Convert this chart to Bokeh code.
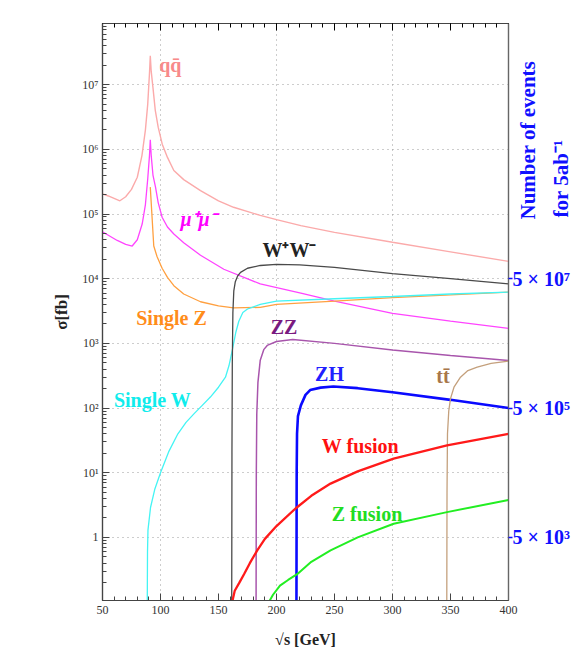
import math
from bokeh.plotting import figure
from bokeh.models import (Range1d, LinearAxis, LogAxis, FixedTicker, Label,
                          CustomJSTickFormatter)
from bokeh.embed import file_html
from bokeh.resources import INLINE

# ---------------- data ----------------
QQ_X = [50, 55, 60, 65, 70, 75, 80, 84, 87, 89, 90.5, 91.2, 92, 93.5, 95.5, 98, 101.5, 106,
        111.5, 120, 134.5, 150, 163, 186, 200, 221, 250, 300, 350, 400]
QQ_Y = [2.05e5, 1.9e5, 1.75e5, 1.6e5, 1.85e5, 2.4e5, 3.7e5, 8e5, 2e6, 5e6, 1.5e7, 2.8e7, 1.6e7,
        9e6, 4e6, 2.2e6, 1.2e6, 7.5e5, 4.7e5, 3.4e5, 2.3e5, 1.6e5, 1.27e5, 9.5e4, 8.2e4, 6.6e4,
        5.2e4, 3.65e4, 2.6e4, 1.85e4]

MM_X = [50, 55, 62.7, 70, 75.6, 80, 84.2, 87, 89, 90.5, 91.2, 92, 93.5, 95.7, 98, 101.4, 106,
        111.5, 120, 134.5, 154.6, 186, 221, 250, 300, 350, 400]
MM_Y = [5.3e4, 4.7e4, 3.9e4, 3.4e4, 3.2e4, 4e4, 7e4, 1.4e5, 3.5e5, 8e5, 1.4e6, 8e5, 4e5, 2.6e5,
        1.5e5, 8.9e4, 6.3e4, 4.9e4, 3.6e4, 2.3e4, 1.4e4, 8.3e3, 6e3, 4.5e3, 2.9e3, 2.2e3, 1.7e3]

SZ_X = [91.2, 94.2, 97, 101.4, 106, 111.5, 120, 134.5, 150, 163, 186, 200, 250, 300, 350, 400]
SZ_Y = [2.6e5, 3.2e4, 2.2e4, 1.45e4, 1.05e4, 7.8e3, 5.8e3, 4.4e3, 3.8e3, 3.55e3, 3.6e3, 4.0e3,
        4.5e3, 5.1e3, 5.6e3, 6.2e3]

SW_X = [88.6, 88.8, 89.2, 91.4, 95, 100, 107, 115, 122, 129, 136, 143, 150, 156, 159, 162, 165,
        167.5, 171, 175, 186, 200, 250, 300, 350, 400]
SW_Y = [0.1, 0.6, 1.3, 2.9, 5.5, 10, 21, 40, 60, 82, 110, 148, 210, 300, 450, 800, 1500, 2200,
        3000, 3400, 4000, 4500, 4900, 5300, 5800, 6200]

WW_X = [161.4, 161.6, 161.9, 162.4, 163.2, 164.5, 166.5, 169, 175, 186, 200, 220, 250, 300, 350, 400]
WW_Y = [0.1, 20, 500, 3000, 6500, 9000, 1.1e4, 1.25e4, 1.45e4, 1.6e4, 1.66e4, 1.64e4, 1.5e4,
        1.2e4, 1.0e4, 8.3e3]

ZZ_X = [182.4, 182.6, 183, 184, 186, 189, 192, 200, 214, 250, 300, 350, 400]
ZZ_Y = [0.1, 10, 80, 250, 550, 800, 930, 1070, 1150, 1000, 790, 650, 545]

ZH_X = [217.2, 217.4, 217.7, 218.5, 221, 225, 229, 238, 249, 270, 300, 350, 400]
ZH_Y = [0.1, 10, 40, 75, 110, 160, 190, 207, 215, 203, 176, 134, 100]

TT_X = [346.8, 347.0, 347.4, 348.5, 350, 353, 358.6, 365, 373, 385, 400]
TT_Y = [0.1, 5, 40, 90, 140, 210, 300, 380, 430, 490, 530]

WF_X = [161.8, 164, 168, 172, 177, 183.4, 190, 200, 216.4, 230, 246.6, 270, 301, 347, 400]
WF_Y = [0.1, 0.15, 0.2, 0.27, 0.4, 0.63, 0.95, 1.5, 2.8, 4.4, 6.8, 10.5, 16.5, 26.4, 40]

ZF_X = [193.4, 197, 203, 210, 217.8, 230, 246.6, 270, 301, 347, 400]
ZF_Y = [0.1, 0.13, 0.18, 0.22, 0.27, 0.42, 0.63, 1.0, 1.63, 2.46, 3.8]

X_TICKS = [50, 100, 150, 200, 250, 300, 350, 400]
Y_TICKS = [1, 10, 100, 1e3, 1e4, 1e5, 1e6, 1e7]
Y_TICK_LABELS = ["1", "10¹", "10²", "10³", "10⁴", "10⁵", "10⁶", "10⁷"]
R_TICKS = [1, 100, 1e4]
R_TICK_LABELS = ["5 × 10³", "5 × 10⁵", "5 × 10⁷"]

SERIES_NAMES = ["qq\u0304", "μ⁺μ⁻", "Single Z", "Single W", "W⁺W⁻", "ZZ", "ZH", "tt\u0304",
                "W fusion", "Z fusion"]

X_TITLE = "√s [GeV]"
Y_TITLE = "σ[fb]"
R_TITLE_1 = "Number of events"
R_TITLE_2 = "for 5ab⁻¹"

FONT = "Liberation Serif"

# ---------------- figure ----------------
p = figure(width=581, height=650, y_axis_type="log",
           x_range=Range1d(50, 400), y_range=Range1d(10 ** -0.975, 10 ** 7.945),
           output_backend="svg", toolbar_location=None,
           min_border_left=102, min_border_right=73, min_border_top=23, min_border_bottom=50,
           background_fill_color="white", border_fill_color="white")
p.outline_line_color = "#555555"
p.outline_line_width = 1.2

# grid
p.xgrid.ticker = FixedTicker(ticks=[100, 200, 300])
p.ygrid.ticker = FixedTicker(ticks=Y_TICKS)
for g in (p.xgrid[0], p.ygrid[0]):
    g.grid_line_color = "#9a9a9a"
    g.grid_line_dash = "1 4"
    g.grid_line_width = 1

x_minor = list(range(50, 401, 10))
y_minor = [k * 10 ** d for d in range(-1, 8) for k in range(2, 10)
           if 10 ** -0.975 <= k * 10 ** d <= 10 ** 7.945]

xa = p.below[0]
xa.ticker = FixedTicker(ticks=X_TICKS, minor_ticks=x_minor)
ya = p.left[0]
ya.ticker = FixedTicker(ticks=Y_TICKS, minor_ticks=y_minor)
ya.formatter = CustomJSTickFormatter(args=dict(t=Y_TICKS, l=Y_TICK_LABELS), code="""
const i = t.findIndex(v => Math.abs(Math.log10(v) - Math.log10(tick)) < 1e-6);
return i >= 0 ? l[i] : '';
""")

for ax in (xa, ya):
    ax.axis_line_color = "#444444"
    ax.axis_line_width = 1.2
    ax.major_tick_in = 7
    ax.major_tick_out = 0
    ax.minor_tick_in = 4
    ax.minor_tick_out = 0
    ax.major_tick_line_color = "#444444"
    ax.minor_tick_line_color = "#444444"
    ax.major_label_text_font = FONT
    ax.major_label_text_color = "#333333"
    ax.axis_label_text_font = FONT
    ax.axis_label_text_font_style = "bold"
    ax.axis_label_text_color = "#222222"
xa.major_label_text_font_size = "12px"
xa.major_label_standoff = 5
xa.axis_label = X_TITLE
xa.axis_label_text_font_size = "16px"
xa.axis_label_standoff = 14
ya.major_label_text_font_size = "12px"
ya.major_label_standoff = 4
ya.axis_label = Y_TITLE
ya.axis_label_text_font_size = "17px"
ya.axis_label_standoff = 8

# top axis (ticks only)
top = LinearAxis(ticker=FixedTicker(ticks=X_TICKS, minor_ticks=x_minor),
                 formatter=CustomJSTickFormatter(code="return '';"),
                 axis_line_color="#444444", major_tick_in=7, major_tick_out=0,
                 minor_tick_in=4, minor_tick_out=0, major_label_text_font_size="1px",
                 major_label_standoff=0)
p.add_layout(top, "above")

# right axis: number of events for 5 ab^-1
right = LogAxis(ticker=FixedTicker(ticks=R_TICKS, minor_ticks=[]),
                formatter=CustomJSTickFormatter(args=dict(t=R_TICKS, l=R_TICK_LABELS), code="""
const i = t.findIndex(v => Math.abs(Math.log10(v) - Math.log10(tick)) < 1e-6);
return i >= 0 ? l[i] : '';
"""),
                axis_line_color="#666666", axis_line_width=1.2,
                major_tick_in=0, major_tick_out=4, major_tick_line_color="#1010ff",
                major_tick_line_width=1.5, minor_tick_in=0, minor_tick_out=0,
                major_label_text_font=FONT, major_label_text_font_style="bold",
                major_label_text_font_size="20px", major_label_text_color="#1010ff",
                major_label_standoff=0)
p.add_layout(right, "right")

# ---------------- curves ----------------
curves = [
    (QQ_X, QQ_Y, "#fbaaaa", 1.4),
    (MM_X, MM_Y, "#ff44ff", 1.3),
    (SZ_X, SZ_Y, "#ffa040", 1.3),
    (SW_X, SW_Y, "#44f4f4", 1.3),
    (WW_X, WW_Y, "#4a4a4a", 1.3),
    (ZZ_X, ZZ_Y, "#a855ac", 1.5),
    (ZH_X, ZH_Y, "#0a0aff", 2.6),
    (TT_X, TT_Y, "#c4a07c", 1.3),
    (WF_X, WF_Y, "#ff1a1a", 2.3),
    (ZF_X, ZF_Y, "#22ee22", 2.0),
]
for xs, ys, col, w in curves:
    p.line(xs, ys, line_color=col, line_width=w)

# ---------------- curve labels ----------------
label_pos = [(108.5, 10 ** 7.31), (132.8, 10 ** 4.93), (109.5, 10 ** 3.39), (93.1, 10 ** 2.125),
             (211.2, 10 ** 4.44), (206.5, 10 ** 3.25), (245.7, 10 ** 2.52), (343.5, 10 ** 2.49),
             (272.4, 10 ** 1.42), (278.0, 10 ** 0.363)]
label_col = ["#f88a8a", "#ff00ff", "#ff8c1a", "#10ecec", "#222222", "#7a1a80", "#2020ff",
             "#a8774a", "#ff1010", "#22dd22"]
label_style = ["bold", "bold italic", "bold", "bold", "bold", "bold", "bold", "bold", "bold", "bold"]
for name, (lx, ly), c, st in zip(SERIES_NAMES, label_pos, label_col, label_style):
    p.add_layout(Label(x=lx, y=ly, text=name, text_color=c, text_font=FONT,
                       text_font_style=st, text_font_size="20px",
                       text_align="center", text_baseline="middle"))

# ---------------- right title ----------------
# Placed in the (roomy) left side panel so it is not clipped to the frame and does not
# shrink the frame; its position is still given in data coordinates beyond x = 400.
p.add_layout(Label(x=417.0, y=10 ** 4.915, text=R_TITLE_1, text_font=FONT,
                   angle=math.pi / 2, text_font_style="bold", text_font_size="21px",
                   text_color="#1010ff", text_align="left", text_baseline="alphabetic"),
             "left")
p.add_layout(Label(x=445.5, y=10 ** 4.946, text=R_TITLE_2, text_font=FONT,
                   angle=math.pi / 2, text_font_style="bold", text_font_size="21px",
                   text_color="#1010ff", text_align="left", text_baseline="alphabetic"),
             "left")

open("out.html", "w").write(file_html(p, INLINE))
